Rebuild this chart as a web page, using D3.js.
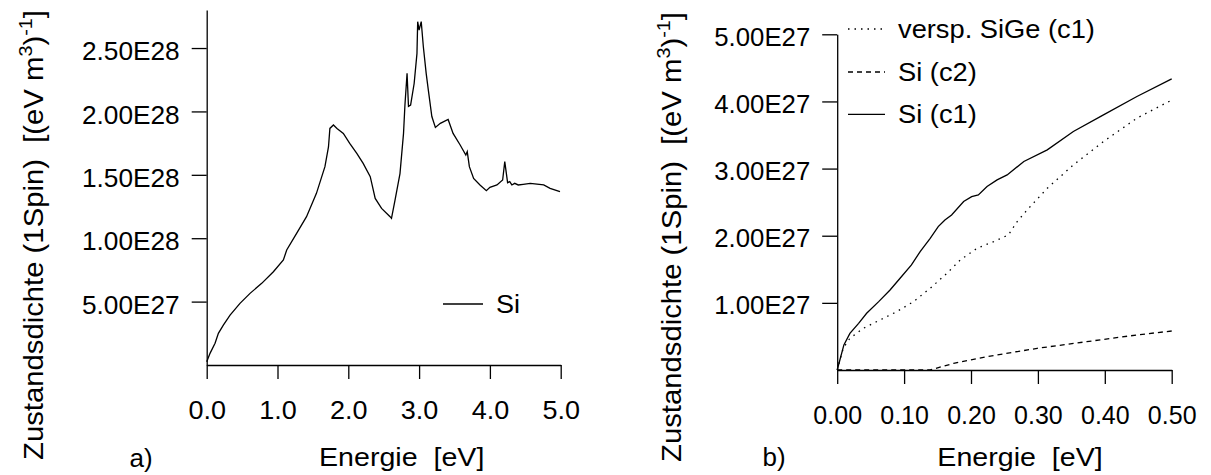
<!DOCTYPE html>
<html>
<head>
<meta charset="utf-8">
<script src="https://cdn.jsdelivr.net/npm/d3@7"></script>
<style>
body { margin: 0; background: #fff; }
svg text { font-family: "Liberation Sans", Arial, sans-serif; fill: #000; white-space: pre; }
</style>
</head>
<body>
<div id="plot"></div>
<script>
// panel a) Si, 0..5 eV
var siE   = [0, 0.047, 0.118, 0.165, 0.235, 0.33, 0.47, 0.612, 0.777, 0.942, 1.083, 1.13, 1.27, 1.41, 1.55, 1.67, 1.72, 1.74, 1.79, 1.84, 1.93, 2.02, 2.12, 2.21, 2.31, 2.38, 2.47, 2.59, 2.61, 2.66, 2.73, 2.78, 2.80, 2.83, 2.85, 2.88, 2.93, 2.97, 2.98, 3.00, 3.03, 3.06, 3.10, 3.13, 3.18, 3.23, 3.30, 3.41, 3.48, 3.58, 3.66, 3.68, 3.71, 3.77, 3.86, 3.95, 4.00, 4.10, 4.18, 4.21, 4.25, 4.28, 4.31, 4.35, 4.40, 4.47, 4.57, 4.76, 4.85, 4.99];
var siDos = [0.026, 0.092, 0.171, 0.25, 0.315, 0.394, 0.486, 0.565, 0.644, 0.736, 0.828, 0.907, 1.038, 1.17, 1.354, 1.564, 1.72, 1.866, 1.893, 1.866, 1.827, 1.748, 1.669, 1.59, 1.485, 1.314, 1.235, 1.17, 1.157, 1.30, 1.51, 1.827, 2.05, 2.30, 2.04, 2.05, 2.22, 2.458, 2.708, 2.642, 2.708, 2.51, 2.30, 2.17, 1.96, 1.874, 1.906, 1.937, 1.827, 1.735, 1.656, 1.683, 1.564, 1.472, 1.42, 1.375, 1.401, 1.42, 1.459, 1.604, 1.438, 1.446, 1.42, 1.433, 1.42, 1.425, 1.433, 1.42, 1.393, 1.367]; // x 1E28

// panel b) 0..0.5 eV, values x 1E27
var c1E    = [0, 0.004, 0.010, 0.019, 0.032, 0.044, 0.062, 0.079, 0.094, 0.111, 0.124, 0.139, 0.151, 0.161, 0.171, 0.189, 0.201, 0.211, 0.224, 0.239, 0.254, 0.279, 0.314, 0.353, 0.398, 0.448, 0.50];
var c1Dos  = [0, 0.149, 0.373, 0.546, 0.695, 0.845, 1.018, 1.192, 1.366, 1.565, 1.764, 1.962, 2.136, 2.235, 2.31, 2.509, 2.583, 2.608, 2.732, 2.832, 2.906, 3.105, 3.279, 3.552, 3.80, 4.074, 4.337];
var sigeE   = [0, 0.004, 0.009, 0.019, 0.039, 0.064, 0.089, 0.114, 0.139, 0.164, 0.184, 0.209, 0.234, 0.256, 0.269, 0.284, 0.314, 0.353, 0.398, 0.448, 0.50];
var sigeDos = [0, 0.149, 0.323, 0.472, 0.621, 0.745, 0.869, 1.018, 1.217, 1.441, 1.639, 1.813, 1.913, 2.012, 2.211, 2.385, 2.707, 3.055, 3.403, 3.751, 4.02];
var c2E    = [0, 0.139, 0.174, 0.224, 0.299, 0.373, 0.448, 0.50];
var c2Dos  = [0, 0, 0.099, 0.199, 0.323, 0.422, 0.522, 0.581];

var xTicksA = [0, 1, 2, 3, 4, 5];
var yTicksA = [5e27, 1e28, 1.5e28, 2e28, 2.5e28];
var xTicksB = [0, 0.1, 0.2, 0.3, 0.4, 0.5];
var yTicksB = [1e27, 2e27, 3e27, 4e27, 5e27];

var legendB = ["versp. SiGe (c1)", "Si (c2)", "Si (c1)"];
var dashB   = ["1.5,5", "5,4", null];

function sci(v)
{
    var e = Math.floor(Math.log10(v) + 1e-9);
    return (v / Math.pow(10, e)).toFixed(2) + "E" + e;
}

// the original text is a bit wider than Arial, stretch it
function stretch(sel, f)
{
    sel.each(function() {
        var w = this.getComputedTextLength();
        d3.select(this).attr("textLength", w * f).attr("lengthAdjust", "spacingAndGlyphs");
    });
}

var svg = d3.select("#plot").append("svg")
    .attr("width", 1211).attr("height", 475);

function yTitle(x, y)
{
    var t = svg.append("text")
        .attr("transform", "translate(" + x + "," + y + ") rotate(-90)")
        .style("text-anchor", "middle")
        .style("font-size", "28px");
    t.append("tspan").text("Zustandsdichte (1Spin)  [(eV m");
    t.append("tspan").attr("dy", -11).style("font-size", "19px").text("3");
    t.append("tspan").attr("dy", 11).text(")");
    t.append("tspan").attr("dy", -11).style("font-size", "19px").text("-1");
    t.append("tspan").attr("dy", 11).text("]");
    t.attr("textLength", 450).attr("lengthAdjust", "spacingAndGlyphs");
}

function styleAxis(g)
{
    g.selectAll("path, line").attr("stroke", "#000").attr("stroke-width", 1.3);
    g.selectAll("text").style("font-size", "25px").attr("fill", "#000")
        .style("font-family", "'Liberation Sans', Arial, sans-serif");
}

// ---------- panel a ----------
var xa = d3.scaleLinear().domain([0, 5]).range([206.7, 560.7]);
var ya = d3.scaleLinear().domain([0, 2.8e28]).range([365, 10]);

var gxa = svg.append("g").attr("transform", "translate(0,365)")
    .call(d3.axisBottom(xa).tickValues(xTicksA).tickFormat(d3.format(".1f")).tickSize(14).tickSizeOuter(0).tickPadding(22))
    .call(styleAxis);
var gya = svg.append("g").attr("transform", "translate(206.7,0)")
    .call(d3.axisLeft(ya).tickValues(yTicksA).tickFormat(sci).tickSize(15).tickSizeOuter(0).tickPadding(12))
    .call(styleAxis);
gya.selectAll(".tick text").attr("dy", "0.47em");

svg.append("path")
    .datum(d3.range(siE.length))
    .attr("fill", "none").attr("stroke", "#000").attr("stroke-width", 1.3)
    .attr("d", d3.line().x(function(i) { return xa(siE[i]); }).y(function(i) { return ya(siDos[i] * 1e28); }));

svg.append("line").attr("x1", 443).attr("x2", 483).attr("y1", 304).attr("y2", 304)
    .attr("stroke", "#000").attr("stroke-width", 1.3);
var legA = svg.append("text").attr("x", 496).attr("y", 313).style("font-size", "25px").text("Si");

yTitle(43, 235);
var labA = svg.append("text").attr("x", 401.7).attr("y", 466).style("text-anchor", "middle").style("font-size", "26px").text("Energie  [eV]");
svg.append("text").attr("x", 141).attr("y", 467).style("text-anchor", "middle").style("font-size", "26px").text("a)");

// ---------- panel b ----------
var xb = d3.scaleLinear().domain([0, 0.5]).range([837.2, 1171.7]);
var yb = d3.scaleLinear().domain([0, 5e27]).range([370, 34.3]);

var gxb = svg.append("g").attr("transform", "translate(0,370)")
    .call(d3.axisBottom(xb).tickValues(xTicksB).tickFormat(d3.format(".2f")).tickSize(14).tickSizeOuter(0).tickPadding(22))
    .call(styleAxis);
var gyb = svg.append("g").attr("transform", "translate(837.2,0)")
    .call(d3.axisLeft(yb).tickValues(yTicksB).tickFormat(sci).tickSize(15).tickSizeOuter(0).tickPadding(12))
    .call(styleAxis);
gyb.selectAll(".tick text").attr("dy", "0.44em");

var seriesB = [[sigeE, sigeDos], [c2E, c2Dos], [c1E, c1Dos]];
seriesB.forEach(function(s, k) {
    svg.append("path")
        .datum(d3.range(s[0].length))
        .attr("fill", "none").attr("stroke", "#000").attr("stroke-width", 1.3)
        .attr("stroke-dasharray", dashB[k])
        .attr("d", d3.line().x(function(i) { return xb(s[0][i]); }).y(function(i) { return yb(s[1][i] * 1e27); }));
});

var legRows = [29, 72, 114.3];
var legTexts = [];
legendB.forEach(function(name, k) {
    svg.append("line").attr("x1", 848).attr("x2", 885).attr("y1", legRows[k]).attr("y2", legRows[k])
        .attr("stroke", "#000").attr("stroke-width", 1.3).attr("stroke-dasharray", dashB[k]);
    legTexts.push(svg.append("text").attr("x", 898).attr("y", legRows[k] + 9).style("font-size", "25px").text(name));
});

yTitle(681, 237);
var labB = svg.append("text").attr("x", 1020).attr("y", 466).style("text-anchor", "middle").style("font-size", "26px").text("Energie  [eV]");
svg.append("text").attr("x", 774).attr("y", 466).style("text-anchor", "middle").style("font-size", "26px").text("b)");

stretch(gya.selectAll(".tick text"), 1.05);
stretch(gyb.selectAll(".tick text"), 1.03);
stretch(gxa.selectAll(".tick text"), 1.08);
stretch(labA, 1.1);
stretch(labB, 1.1);
stretch(legA, 1.08);
legTexts.forEach(function(t) { stretch(t, 1.09); });
</script>
</body>
</html>
